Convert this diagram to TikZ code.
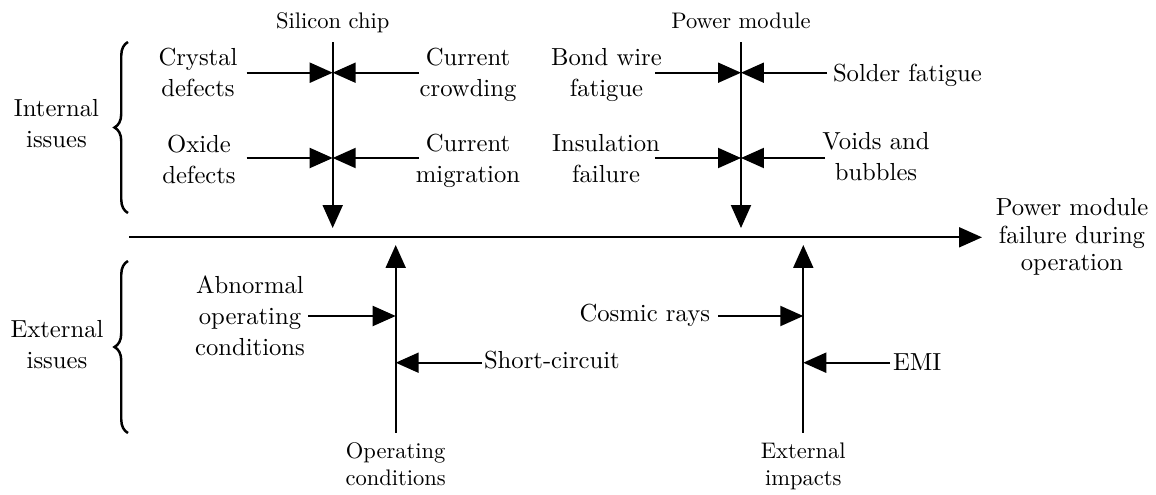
\documentclass[tikz,border=0pt]{standalone}
\usetikzlibrary{arrows.meta,decorations.pathreplacing}
\begin{document}
\begin{tikzpicture}[x=0.444pt,y=-0.444pt,
  every node/.style={inner sep=0pt,outer sep=0pt},
  lab/.style={align=center,font=\fontsize{10.95}{13.6}\selectfont},
  sml/.style={align=center,font=\fontsize{10}{12}\selectfont},
  ln/.style={line width=0.8pt},
  arr/.style={line width=0.8pt,-{Triangle[length=10.2pt,width=8.9pt]}},
  brc/.style={line width=1.1pt,decorate,decoration={brace,amplitude=6pt}}]
\useasboundingbox (0,0) rectangle (1156,495);

% group labels (base = last line)
\node[sml,anchor=base] (sclab) at (332.7,28) {Silicon chip};
\node[sml,anchor=base] (pmlab) at (741,28) {Power module};
\node[sml,anchor=base] (oclab) at (395.7,485.5) {Operating\\conditions};
\node[sml,anchor=base] (eilab) at (803.3,485.5) {External\\impacts};

% side labels
\node[lab,anchor=base] (intl) at (56.5,147.3) {Internal\\issues};
\node[lab,anchor=base] (extl) at (57,368) {External\\issues};
\coordinate (ib1) at (128,213); \coordinate (ib2) at (128,42);
\coordinate (eb1) at (128,433); \coordinate (eb2) at (128,261);
\draw[brc] (ib1) -- (ib2);
\draw[brc] (eb1) -- (eb2);

% cause labels
\node[lab,anchor=base] (crys) at (198,96.6) {Crystal\\defects};
\node[lab,anchor=base] (oxid) at (199,183) {Oxide\\defects};
\node[lab,anchor=base] (ccrw) at (468,96.6) {Current\\crowding};
\node[lab,anchor=base] (cmig) at (468,182.5) {Current\\migration};
\node[lab,anchor=base] (bond) at (606.5,96) {Bond wire\\fatigue};
\node[lab,anchor=base] (insu) at (606,182) {Insulation\\failure};
\node[lab,anchor=base west] (sold) at (833,81.5) {Solder fatigue};
\node[lab,anchor=base] (void) at (876,180) {Voids and\\bubbles};
\node[lab,anchor=base] (abno) at (250,355) {Abnormal\\operating\\conditions};
\node[lab,anchor=base west] (shrt) at (484,368) {Short-circuit};
\node[lab,anchor=base east] (cosm) at (710,321) {Cosmic rays};
\node[lab,anchor=base west] (emi) at (893,370) {EMI};
\node[lab,anchor=base,font=\fontsize{10.95}{12.2}\selectfont] (out) at (1072,270.5) {Power module\\failure during\\operation};

% spines
\coordinate (sctop) at (332.7,42); \coordinate (sctip) at (332.7,228);
\coordinate (pmtop) at (741,42);   \coordinate (pmtip) at (741,228);
\coordinate (ocbot) at (395.7,432.7); \coordinate (octip) at (395.7,245);
\coordinate (eibot) at (803.3,432.7); \coordinate (eitip) at (803.3,245);
\coordinate (mainS) at (129,237.3); \coordinate (mainE) at (982,237.3);
\draw[arr] (sctop) -- (sctip);
\draw[arr] (pmtop) -- (pmtip);
\draw[arr] (ocbot) -- (octip);
\draw[arr] (eibot) -- (eitip);
\draw[arr] (mainS) -- (mainE);

% junctions
\coordinate (j1) at (332.7,72.7); \coordinate (j2) at (332.7,158);
\coordinate (j3) at (741,72.7);   \coordinate (j4) at (741,158);
\coordinate (j5) at (395.7,316);  \coordinate (j6) at (395.7,362.7);
\coordinate (j7) at (803.3,316);  \coordinate (j8) at (803.3,362.7);

% arrow starts
\coordinate (crysA) at (246.7,72.7); \coordinate (ccrwA) at (419,72.7);
\coordinate (oxidA) at (246.7,158);  \coordinate (cmigA) at (419,158);
\coordinate (bondA) at (655,72.7);   \coordinate (soldA) at (827,72.7);
\coordinate (insuA) at (655,158);    \coordinate (voidA) at (825,158);
\coordinate (abnoA) at (308,316);    \coordinate (shrtA) at (481.7,362.7);
\coordinate (cosmA) at (718,316);    \coordinate (emiA) at (890,362.7);

\draw[arr] (crysA) -- (j1);
\draw[arr] (ccrwA) -- (j1);
\draw[arr] (oxidA) -- (j2);
\draw[arr] (cmigA) -- (j2);
\draw[arr] (bondA) -- (j3);
\draw[arr] (soldA) -- (j3);
\draw[arr] (insuA) -- (j4);
\draw[arr] (voidA) -- (j4);
\draw[arr] (abnoA) -- (j5);
\draw[arr] (shrtA) -- (j6);
\draw[arr] (cosmA) -- (j7);
\draw[arr] (emiA) -- (j8);
\end{tikzpicture}
\end{document}
